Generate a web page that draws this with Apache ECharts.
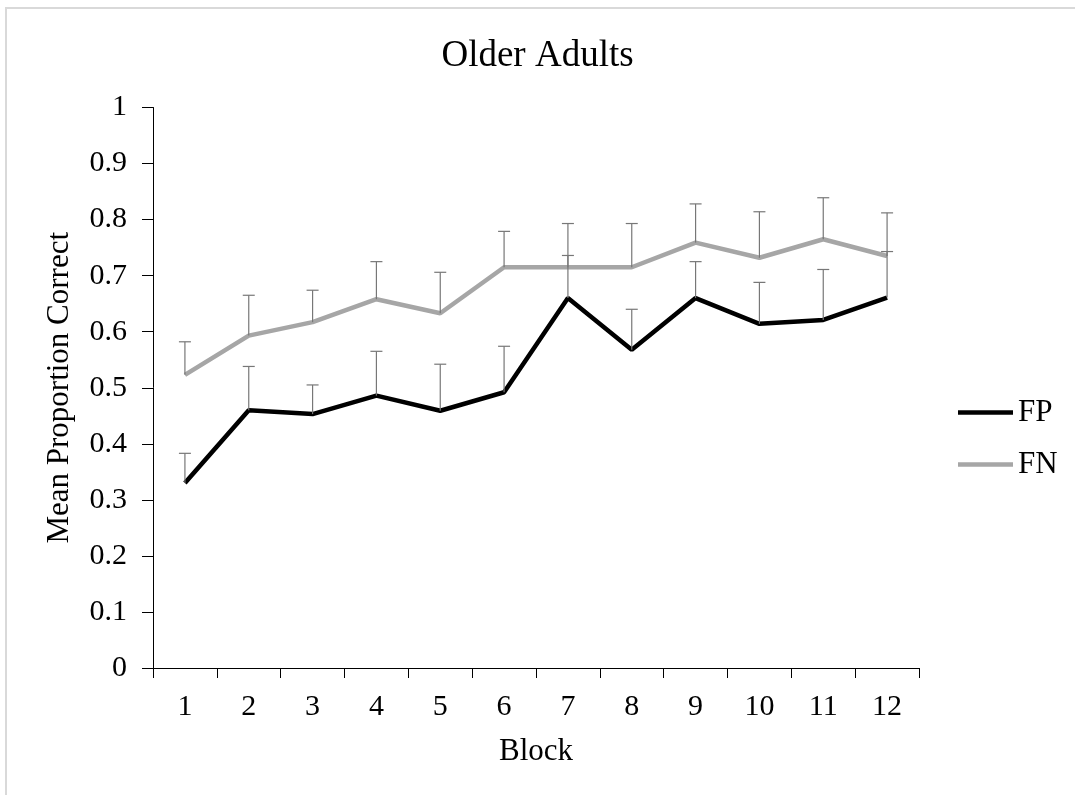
<!DOCTYPE html>
<html>
<head>
<meta charset="utf-8">
<script src="https://cdn.jsdelivr.net/npm/echarts@6/dist/echarts.min.js"></script>
<style>
  html, body { margin: 0; padding: 0; background: #fff; }
  #chart { width: 1075px; height: 795px; }
</style>
</head>
<body>
<div id="chart"></div>
<script>
// Block numbers along the x axis
const blocks = ['1', '2', '3', '4', '5', '6', '7', '8', '9', '10', '11', '12'];

// Mean proportion correct per block
const fpMeans = [0.330, 0.460, 0.453, 0.486, 0.459, 0.492, 0.660, 0.568, 0.660, 0.614, 0.621, 0.661];
const fnMeans = [0.523, 0.593, 0.617, 0.658, 0.633, 0.715, 0.715, 0.715, 0.759, 0.732, 0.765, 0.735];

// Upper error bar length (standard error) per block
const fpErrors = [0.053, 0.078, 0.052, 0.079, 0.083, 0.082, 0.076, 0.072, 0.065, 0.074, 0.090, 0.082];
const fnErrors = [0.059, 0.072, 0.057, 0.067, 0.073, 0.064, 0.078, 0.078, 0.069, 0.082, 0.074, 0.077];

const FONT = '"Liberation Serif", "Times New Roman", serif';

function errorData(means, errors) {
  return means.map((m, i) => [i, m, m + errors[i]]);
}

// Upper-only error bar: stem from the mean to mean + SE with a short cap
function renderErrorBar(params, api) {
  const base = api.coord([api.value(0), api.value(1)]);
  const top = api.coord([api.value(0), api.value(2)]);
  const half = 6;
  const style = { stroke: '#777777', lineWidth: 1.2, fill: null };
  return {
    type: 'group',
    children: [
      { type: 'line', shape: { x1: base[0], y1: base[1], x2: top[0], y2: top[1] }, style },
      { type: 'line', shape: { x1: top[0] - half, y1: top[1], x2: top[0] + half, y2: top[1] }, style }
    ]
  };
}

const chart = echarts.init(document.getElementById('chart'));

chart.setOption({
  backgroundColor: '#ffffff',
  animation: false,
  graphic: [{
    type: 'rect',
    shape: { x: 6, y: 8, width: 1200, height: 1000 },
    style: { fill: null, stroke: '#d9d9d9', lineWidth: 2 },
    silent: true
  }],
  title: {
    text: 'Older Adults',
    left: 'center',
    top: 33,
    textStyle: { fontFamily: FONT, fontSize: 37, fontWeight: 'normal', color: '#000' }
  },
  legend: {
    orient: 'vertical',
    left: 958,
    top: 397,
    padding: 0,
    icon: 'rect',
    itemWidth: 55,
    itemHeight: 4.5,
    itemGap: 21,
    data: [
      { name: 'FP', itemStyle: { color: '#000000' } },
      { name: 'FN', itemStyle: { color: '#a6a6a6' } }
    ],
    textStyle: { fontFamily: FONT, fontSize: 31, color: '#000', lineHeight: 31 }
  },
  grid: { left: 153, right: 156, top: 107.5, bottom: 127, containLabel: false },
  xAxis: {
    type: 'category',
    data: blocks,
    boundaryGap: true,
    name: 'Block',
    nameLocation: 'middle',
    nameGap: 68,
    nameTextStyle: { fontFamily: FONT, fontSize: 31, color: '#000' },
    axisLine: { lineStyle: { color: '#000', width: 1 } },
    axisTick: { show: true, length: 10, inside: false, alignWithLabel: false, lineStyle: { color: '#000' } },
    axisLabel: { fontFamily: FONT, fontSize: 30, color: '#000', margin: 24 },
    splitLine: { show: false }
  },
  yAxis: {
    type: 'value',
    min: 0,
    max: 1,
    interval: 0.1,
    name: 'Mean Proportion Correct',
    nameLocation: 'middle',
    nameGap: 78,
    nameRotate: 90,
    nameTextStyle: { fontFamily: FONT, fontSize: 31, color: '#000' },
    axisLine: { show: true, lineStyle: { color: '#000', width: 1 } },
    axisTick: { show: true, length: 11, inside: false, lineStyle: { color: '#000' } },
    axisLabel: {
      fontFamily: FONT, fontSize: 30, color: '#000', margin: 26,
      formatter: v => String(Math.round(v * 10) / 10)
    },
    splitLine: { show: false }
  },
  series: [
    {
      name: 'FP',
      type: 'line',
      data: fpMeans,
      symbol: 'none',
      lineStyle: { color: '#000000', width: 4.5 },
      itemStyle: { color: '#000000' },
      z: 3
    },
    {
      name: 'FN',
      type: 'line',
      data: fnMeans,
      symbol: 'none',
      lineStyle: { color: '#a6a6a6', width: 4.5 },
      itemStyle: { color: '#a6a6a6' },
      z: 2
    },
    {
      name: 'FP error',
      type: 'custom',
      renderItem: renderErrorBar,
      data: errorData(fpMeans, fpErrors),
      encode: { x: 0, y: [1, 2] },
      z: 4,
      silent: true
    },
    {
      name: 'FN error',
      type: 'custom',
      renderItem: renderErrorBar,
      data: errorData(fnMeans, fnErrors),
      encode: { x: 0, y: [1, 2] },
      z: 4,
      silent: true
    }
  ]
});
</script>
</body>
</html>
